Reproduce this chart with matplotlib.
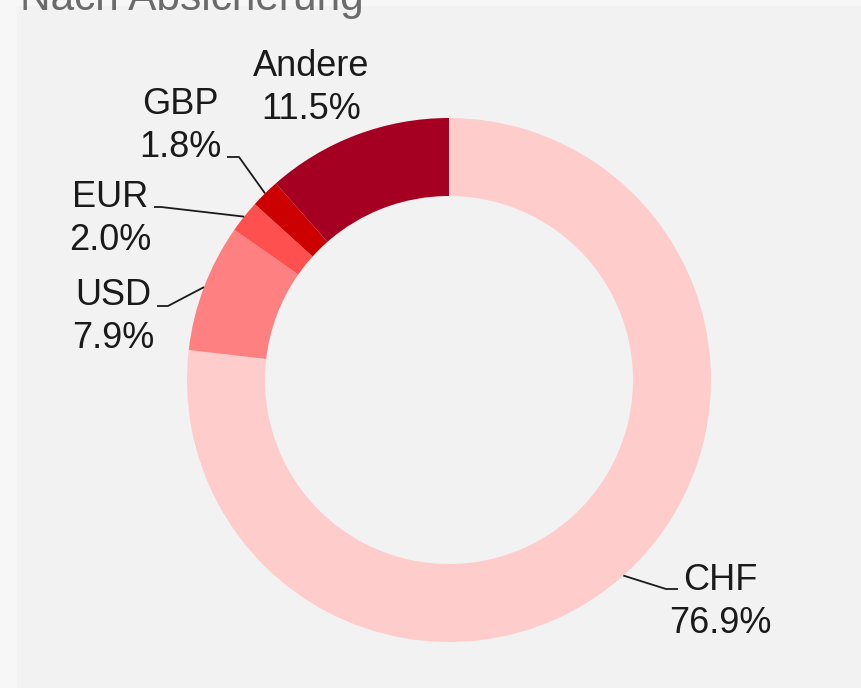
import matplotlib
matplotlib.use("Agg")
import matplotlib.pyplot as plt
from matplotlib.patches import Rectangle
import numpy as np

plt.rcParams['font.family'] = ['Liberation Sans', 'DejaVu Sans']

# ---- data ----
categories = ["CHF", "USD", "EUR", "GBP", "Andere"]
shares = [76.9, 7.9, 2.0, 1.8, 11.5]
colors = ["#ffcccc", "#ff8080", "#ff5050", "#cc0000", "#a50021"]
title = "Nach Absicherung"

# ---- layout (pixels) ----
W, H = 862, 688
CX, CY, R = 449, 380, 262
RING = 78
# label: (x center, first baseline y), leader: (elbow, end) or None
label_pos = {
    "CHF": (720, 590),
    "USD": (113, 305),
    "EUR": (110, 207),
    "GBP": (180, 114),
    "Andere": (311, 76),
}
leaders = {
    "CHF": ((666, 589), (678, 589)),
    "USD": ((168, 306), (157, 306)),
    "EUR": ((161, 207), (154, 207)),
    "GBP": ((239, 157), (227, 157)),
    "Andere": None,
}
LINE_GAP = 43


def px(x, y):
    return ((x - CX) / R, (CY - y) / R)


fig = plt.figure(figsize=(W / 100, H / 100), dpi=100)
fig.patch.set_facecolor("#f7f7f7")
fig.patches.append(Rectangle((17 / W, 0), 1 - 17 / W, (H - 6) / H,
                             transform=fig.transFigure, facecolor="#f2f2f2",
                             edgecolor="none", zorder=-5))

ax = fig.add_axes([0, 0, 1, 1])
ax.set_zorder(1)
ax.set_facecolor("none")
wedges, _ = ax.pie(shares, colors=colors, startangle=90, counterclock=False,
                   radius=1.0, wedgeprops=dict(width=RING / R, edgecolor="none"))
ax.set_xlim(-CX / R, (W - CX) / R)
ax.set_ylim(-(H - CY) / R, CY / R)
ax.set_aspect("auto")
ax.axis("off")

txt_color = "#1a1a1a"
for cat, val, w in zip(categories, shares, wedges):
    lx, ly = label_pos[cat]
    x0, y0 = px(lx, ly)
    x1, y1 = px(lx, ly + LINE_GAP)
    ax.text(x0, y0, cat, ha="center", va="baseline", fontsize=26, color=txt_color)
    ax.text(x1, y1, f"{val:.1f}%", ha="center", va="baseline", fontsize=26, color=txt_color)
    ld = leaders[cat]
    if ld is not None:
        ang = np.deg2rad((w.theta1 + w.theta2) / 2)
        sx, sy = np.cos(ang), np.sin(ang)
        ex, ey = px(*ld[0])
        fx, fy = px(*ld[1])
        ax.plot([sx, ex, fx], [sy, ey, fy], color=txt_color, lw=1.3,
                solid_capstyle="butt")

fig.text(20 / W, 1 - 10 / H, title, ha="left", va="baseline", fontsize=30.5,
         color="#6b6b6b", zorder=5)

fig.savefig("out.png", dpi=100, facecolor=fig.get_facecolor())
